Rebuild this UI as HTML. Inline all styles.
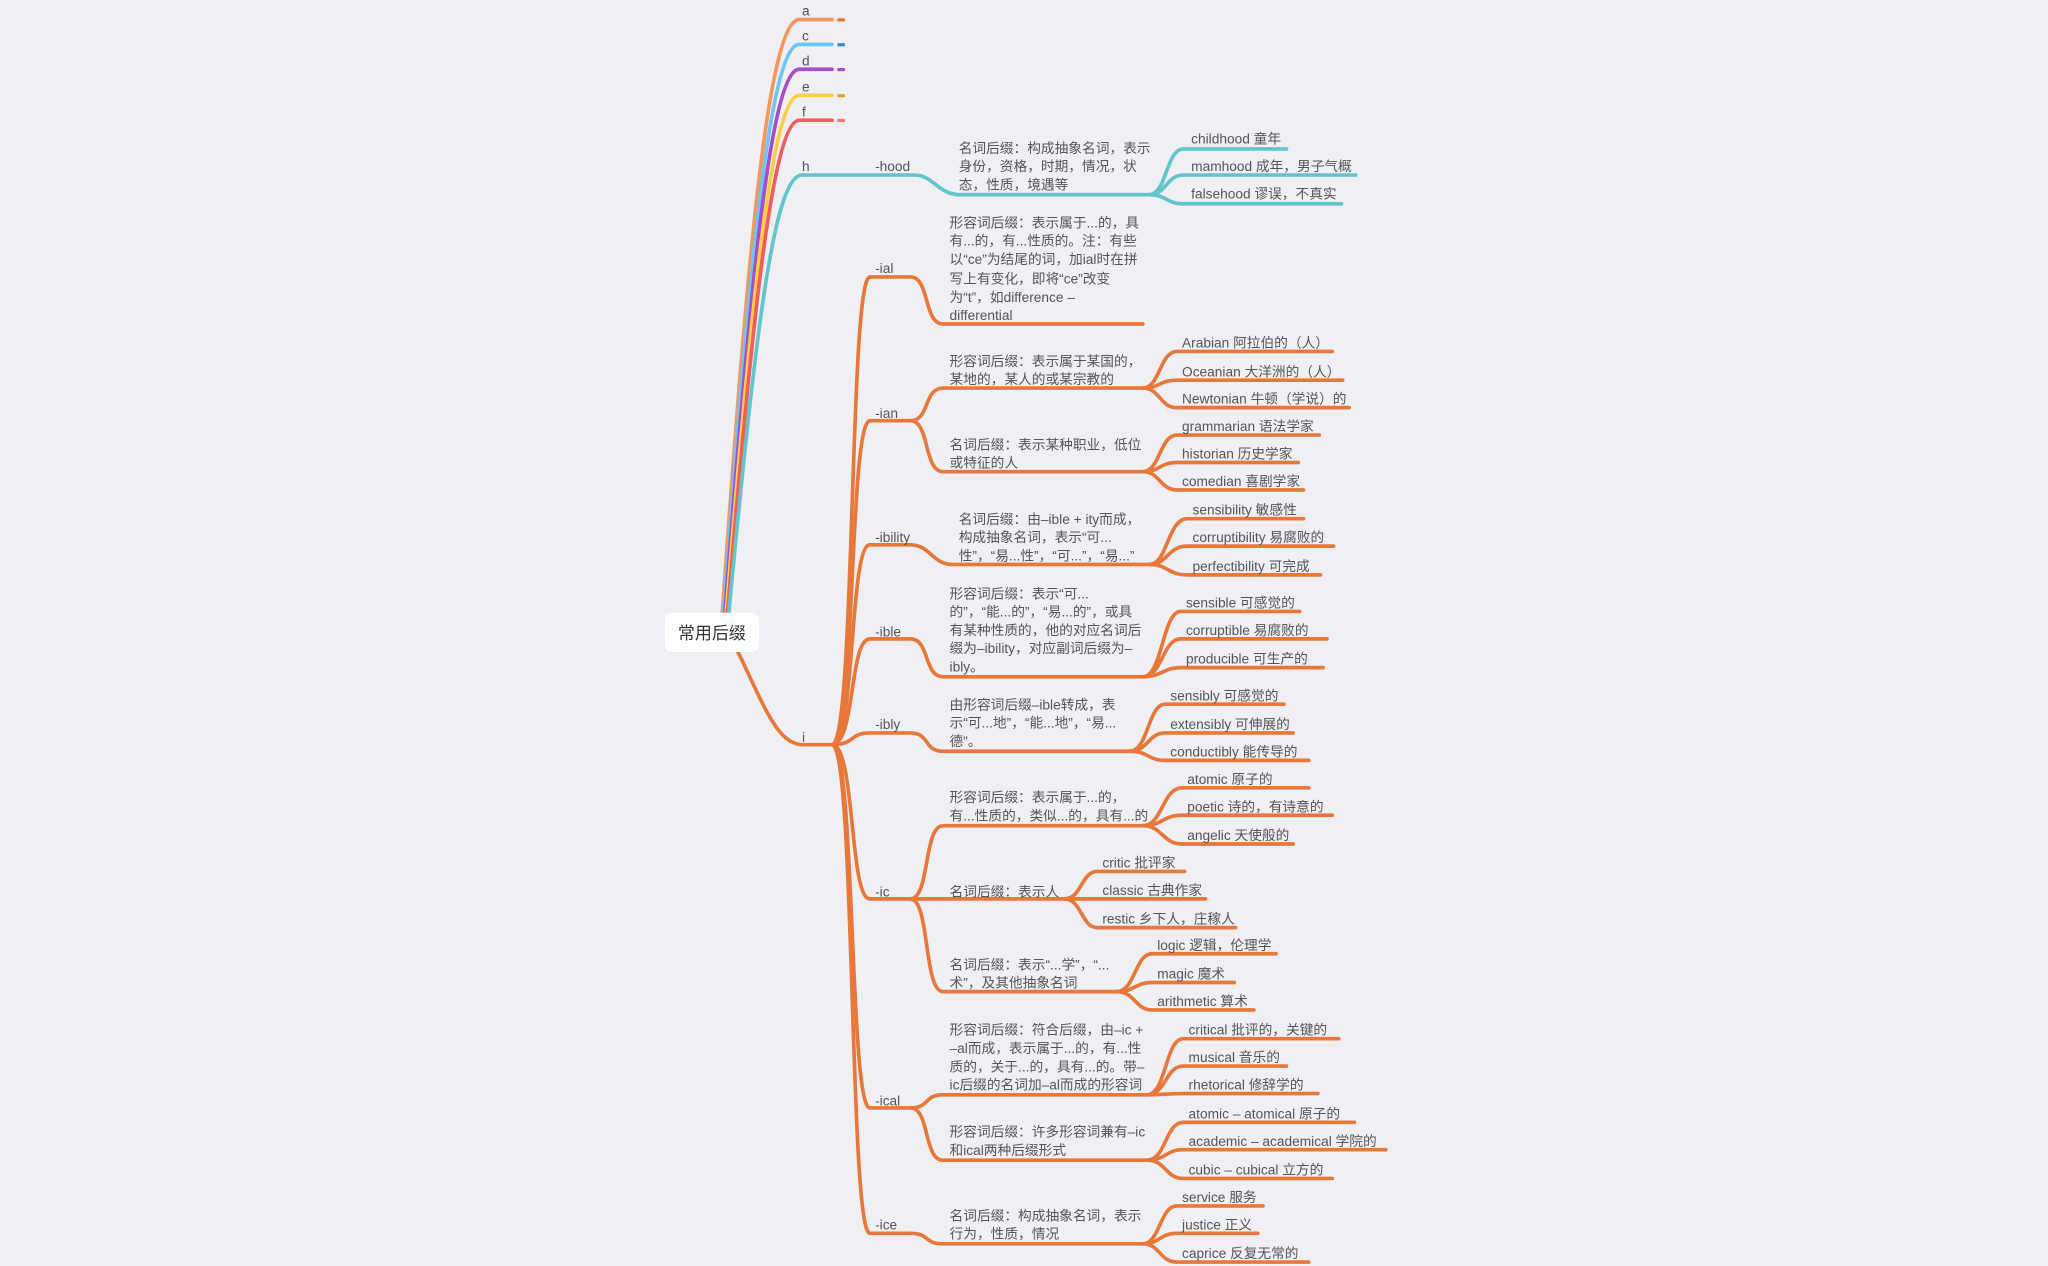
<!DOCTYPE html>
<html><head><meta charset="utf-8"><style>
html,body{margin:0;padding:0;background:#efeff4;}
svg{display:block}
text{font-family:"Liberation Sans","Noto Sans CJK SC",sans-serif;font-size:10.5px;fill:#555}
</style></head><body>
<svg width="2048" height="1266" viewBox="0 0 1568 969" preserveAspectRatio="none" xmlns="http://www.w3.org/2000/svg">
<rect width="1568" height="969" fill="#efeff4"/>
<g fill="none" stroke-width="2.8" stroke-linecap="round">
<path d="M553,469 C572,200 588,15 612,15 H637" stroke="#f7965a"/>
<path d="M554,469 C573,210 589,34 612,34 H637" stroke="#6ec4f5"/>
<path d="M555,469 C574,220 590,53 612,53 H637" stroke="#a64dc8"/>
<path d="M556,469 C575,230 591,73 612,73 H637" stroke="#f9cf47"/>
<path d="M557,469 C576,240 592,92 612,92 H637" stroke="#f25c5c"/>
<g stroke="#62c5cb">
<path d="M558,469 C578,260 592,134 614,134 H700 C715,134 718,149 735,149 H880"/>
<path d="M880,149 C893,149 893,114 906,114 H985"/>
<path d="M880,149 C893,149 893,134 906,134 H1038"/>
<path d="M880,149 C893,149 893,156 906,156 H1027"/>
</g>
<g stroke="#e8773a">
<path d="M565,499 C585,540 595,570 615,570 H637"/>
<path d="M637,570 C655,570 650,212 666,212 H697 C712,212 707,248 722,248 H875"/>
<path d="M637,570 C655,570 650,322 666,322 H697 C712,322 707,297 722,297 H875"/>
<path d="M697,322 C712,322 707,361 722,361 H875"/>
<path d="M875,297 C888,297 888,269 901,269 H1020"/>
<path d="M875,297 C888,297 888,291 901,291 H1028"/>
<path d="M875,297 C888,297 888,312 901,312 H1033"/>
<path d="M875,361 C888,361 888,333 901,333 H1010"/>
<path d="M875,361 C888,361 888,354 901,354 H994"/>
<path d="M875,361 C888,361 888,375 901,375 H998"/>
<path d="M637,570 C655,570 650,417 666,417 H697 C712,417 714,432 729,432 H880"/>
<path d="M880,432 C894,432 894,397 909,397 H998"/>
<path d="M880,432 C894,432 894,418 909,418 H1021"/>
<path d="M880,432 C894,432 894,440 909,440 H1011"/>
<path d="M637,570 C655,570 650,489 666,489 H697 C712,489 707,518 722,518 H875"/>
<path d="M875,518 C890,518 890,468 904,468 H995"/>
<path d="M875,518 C890,518 890,489 904,489 H1016"/>
<path d="M875,518 C890,518 890,511 904,511 H1013"/>
<path d="M637,570 C655,570 650,561 666,561 H697 C712,561 707,575 722,575 H865"/>
<path d="M865,575 C879,575 879,539 892,539 H983"/>
<path d="M865,575 C879,575 879,561 892,561 H990"/>
<path d="M865,575 C879,575 879,582 892,582 H1002"/>
<path d="M637,570 C655,570 650,688 666,688 H697 C712,688 707,632 722,632 H875"/>
<path d="M697,688 H815"/>
<path d="M697,688 C712,688 707,759 722,759 H855"/>
<path d="M875,632 C890,632 890,603 905,603 H1002"/>
<path d="M875,632 C890,632 890,624 905,624 H1020"/>
<path d="M875,632 C890,632 890,646 905,646 H990"/>
<path d="M815,688 C828,688 828,667 840,667 H907"/>
<path d="M815,688 H923"/>
<path d="M815,688 C828,688 828,710 840,710 H946"/>
<path d="M855,759 C869,759 869,730 882,730 H977"/>
<path d="M855,759 C869,759 869,752 882,752 H945"/>
<path d="M855,759 C869,759 869,773 882,773 H960"/>
<path d="M637,570 C655,570 650,848 666,848 H697 C712,848 707,838 722,838 H878"/>
<path d="M697,848 C712,848 707,888 722,888 H878"/>
<path d="M878,838 C893,838 892,795 906,795 H1025"/>
<path d="M878,838 C893,838 892,816 906,816 H985"/>
<path d="M878,838 C893,838 892,837 906,837 H1009"/>
<path d="M878,888 C893,888 892,859 906,859 H1037"/>
<path d="M878,888 C893,888 892,880 906,880 H1061"/>
<path d="M878,888 C893,888 892,902 906,902 H1020"/>
<path d="M637,570 C655,570 650,944 666,944 H697 C712,944 707,952 722,952 H875"/>
<path d="M875,952 C888,952 888,923 901,923 H967"/>
<path d="M875,952 C888,952 888,944 901,944 H963"/>
<path d="M875,952 C888,952 888,966 901,966 H1002"/>
</g>
</g>
<rect x="641" y="14" width="6" height="2.5" rx="1" fill="#e8773a"/>
<rect x="641" y="33" width="6" height="2.5" rx="1" fill="#3a8cc8"/>
<rect x="641" y="52" width="6" height="2.5" rx="1" fill="#a64dc8"/>
<rect x="641" y="72" width="6" height="2.5" rx="1" fill="#d9a520"/>
<rect x="641" y="91" width="6" height="2.5" rx="1" fill="#f27a7a"/>
<rect x="509" y="469" width="72" height="30" rx="5" fill="#fff"/>
<text x="545" y="489" text-anchor="middle" style="font-size:13px;fill:#333">常用后缀</text>
<text x="614" y="12">a</text><text x="614" y="31">c</text><text x="614" y="50">d</text><text x="614" y="70">e</text><text x="614" y="89">f</text><text x="614" y="131">h</text><text x="614" y="568">i</text>
<text x="670" y="131">-hood</text>
<text x="734" y="117">名词后缀：构成抽象名词，表示</text>
<text x="734" y="131">身份，资格，时期，情况，状</text>
<text x="734" y="145">态，性质，境遇等</text>
<text x="912" y="110">childhood 童年</text>
<text x="912" y="131">mamhood 成年，男子气概</text>
<text x="912" y="152">falsehood 谬误，不真实</text>
<text x="670" y="209">-ial</text>
<text x="727" y="174">形容词后缀：表示属于...的，具</text>
<text x="727" y="188">有...的，有...性质的。注：有些</text>
<text x="727" y="202">以“ce”为结尾的词，加ial时在拼</text>
<text x="727" y="217">写上有变化，即将“ce”改变</text>
<text x="727" y="231">为“t”，如difference –</text>
<text x="727" y="245">differential</text>
<text x="670" y="320">-ian</text>
<text x="727" y="280">形容词后缀：表示属于某国的，</text>
<text x="727" y="294">某地的，某人的或某宗教的</text>
<text x="727" y="344">名词后缀：表示某种职业，低位</text>
<text x="727" y="358">或特征的人</text>
<text x="905" y="266">Arabian 阿拉伯的（人）</text>
<text x="905" y="288">Oceanian 大洋洲的（人）</text>
<text x="905" y="309">Newtonian 牛顿（学说）的</text>
<text x="905" y="330">grammarian 语法学家</text>
<text x="905" y="351">historian 历史学家</text>
<text x="905" y="372">comedian 喜剧学家</text>
<text x="670" y="415">-ibility</text>
<text x="734" y="401">名词后缀：由–ible + ity而成，</text>
<text x="734" y="415">构成抽象名词，表示“可...</text>
<text x="734" y="429">性”，“易...性”，“可...”，“易...”</text>
<text x="913" y="394">sensibility 敏感性</text>
<text x="913" y="415">corruptibility 易腐败的</text>
<text x="913" y="437">perfectibility 可完成</text>
<text x="670" y="487">-ible</text>
<text x="727" y="458">形容词后缀：表示“可...</text>
<text x="727" y="472">的”，“能...的”，“易...的”，或具</text>
<text x="727" y="486">有某种性质的，他的对应名词后</text>
<text x="727" y="500">缀为–ibility，对应副词后缀为–</text>
<text x="727" y="514">ibly。</text>
<text x="908" y="465">sensible 可感觉的</text>
<text x="908" y="486">corruptible 易腐败的</text>
<text x="908" y="508">producible 可生产的</text>
<text x="670" y="558">-ibly</text>
<text x="727" y="543">由形容词后缀–ible转成，表</text>
<text x="727" y="557">示“可...地”，“能...地”，“易...</text>
<text x="727" y="571">德”。</text>
<text x="896" y="536">sensibly 可感觉的</text>
<text x="896" y="558">extensibly 可伸展的</text>
<text x="896" y="579">conductibly 能传导的</text>
<text x="670" y="686">-ic</text>
<text x="727" y="614">形容词后缀：表示属于...的，</text>
<text x="727" y="628">有...性质的，类似...的，具有...的</text>
<text x="727" y="686">名词后缀：表示人</text>
<text x="727" y="742">名词后缀：表示“...学”，“...</text>
<text x="727" y="756">术”，及其他抽象名词</text>
<text x="909" y="600">atomic 原子的</text>
<text x="909" y="621">poetic 诗的，有诗意的</text>
<text x="909" y="643">angelic 天使般的</text>
<text x="844" y="664">critic 批评家</text>
<text x="844" y="685">classic 古典作家</text>
<text x="844" y="707">restic 乡下人，庄稼人</text>
<text x="886" y="727">logic 逻辑，伦理学</text>
<text x="886" y="749">magic 魔术</text>
<text x="886" y="770">arithmetic 算术</text>
<text x="670" y="846">-ical</text>
<text x="727" y="792">形容词后缀：符合后缀，由–ic +</text>
<text x="727" y="806">–al而成，表示属于...的，有...性</text>
<text x="727" y="820">质的，关于...的，具有...的。带–</text>
<text x="727" y="834">ic后缀的名词加–al而成的形容词</text>
<text x="727" y="870">形容词后缀：许多形容词兼有–ic</text>
<text x="727" y="884">和ical两种后缀形式</text>
<text x="910" y="792">critical 批评的，关键的</text>
<text x="910" y="813">musical 音乐的</text>
<text x="910" y="834">rhetorical 修辞学的</text>
<text x="910" y="856">atomic – atomical 原子的</text>
<text x="910" y="877">academic – academical 学院的</text>
<text x="910" y="899">cubic – cubical 立方的</text>
<text x="670" y="941">-ice</text>
<text x="727" y="934">名词后缀：构成抽象名词，表示</text>
<text x="727" y="948">行为，性质，情况</text>
<text x="905" y="920">service 服务</text>
<text x="905" y="941">justice 正义</text>
<text x="905" y="963">caprice 反复无常的</text>
</svg>
</body></html>
